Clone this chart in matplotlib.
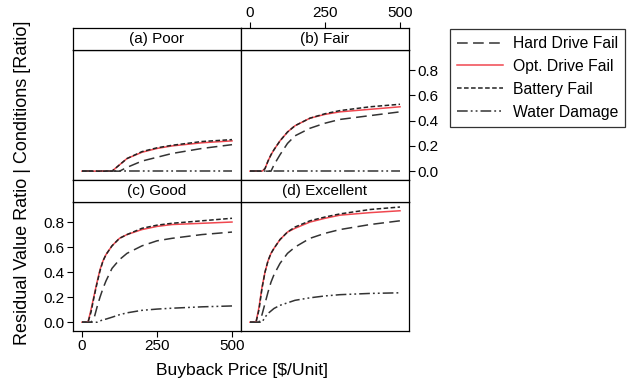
import matplotlib
matplotlib.use("Agg")
import matplotlib.pyplot as plt
from matplotlib.lines import Line2D

plt.rcParams['font.family'] = ['Liberation Sans', 'DejaVu Sans']

# buyback price grid, $/unit
price = [0, 20, 30, 40, 50, 60, 70, 80, 100, 125, 150, 200, 250, 300, 400, 500]

# (a) Poor
poor_hd = [0, 0, 0, 0, 0, 0, 0, 0, 0, 0, 0.03, 0.08, 0.11, 0.14, 0.18, 0.21]
poor_opt = [0, 0, 0, 0, 0, 0, 0, 0, 0, 0.05, 0.10, 0.15, 0.18, 0.20, 0.225, 0.24]
poor_bat = [0, 0, 0, 0, 0, 0, 0, 0, 0, 0.05, 0.10, 0.155, 0.185, 0.205, 0.235, 0.25]
poor_wat = [0] * 16

# (b) Fair
fair_hd = [0, 0, 0, 0, 0, 0, 0, 0.05, 0.13, 0.22, 0.28, 0.34, 0.38, 0.41, 0.44, 0.47]
fair_opt = [0, 0, 0, 0, 0.02, 0.08, 0.13, 0.17, 0.24, 0.31, 0.36, 0.42, 0.45, 0.47, 0.49, 0.51]
fair_bat = [0, 0, 0, 0, 0.02, 0.08, 0.13, 0.17, 0.24, 0.31, 0.36, 0.42, 0.455, 0.48, 0.51, 0.53]
fair_wat = [0] * 16

# (c) Good
good_hd = [0, 0, 0, 0.03, 0.12, 0.20, 0.27, 0.33, 0.43, 0.50, 0.55, 0.61, 0.65, 0.67, 0.70, 0.72]
good_opt = [0, 0, 0.10, 0.21, 0.32, 0.42, 0.49, 0.54, 0.61, 0.67, 0.70, 0.74, 0.765, 0.78, 0.79, 0.80]
good_bat = [0, 0, 0.08, 0.20, 0.31, 0.41, 0.49, 0.54, 0.61, 0.67, 0.70, 0.75, 0.775, 0.79, 0.81, 0.83]
good_wat = [0, 0, 0, 0, 0, 0.01, 0.02, 0.025, 0.04, 0.06, 0.075, 0.095, 0.105, 0.112, 0.123, 0.13]

# (d) Excellent
exc_hd = [0, 0, 0, 0.06, 0.15, 0.24, 0.32, 0.38, 0.47, 0.55, 0.60, 0.67, 0.71, 0.74, 0.78, 0.81]
exc_opt = [0, 0, 0.12, 0.28, 0.40, 0.49, 0.55, 0.59, 0.66, 0.72, 0.75, 0.80, 0.83, 0.855, 0.875, 0.89]
exc_bat = [0, 0, 0.10, 0.27, 0.40, 0.49, 0.55, 0.59, 0.66, 0.72, 0.76, 0.81, 0.84, 0.865, 0.90, 0.92]
exc_wat = [0, 0, 0, 0, 0.04, 0.07, 0.09, 0.11, 0.135, 0.155, 0.175, 0.195, 0.21, 0.22, 0.23, 0.235]

titles = ["(a) Poor", "(b) Fair", "(c) Good", "(d) Excellent"]
panels = [
    (poor_hd, poor_opt, poor_bat, poor_wat),
    (fair_hd, fair_opt, fair_bat, fair_wat),
    (good_hd, good_opt, good_bat, good_wat),
    (exc_hd, exc_opt, exc_bat, exc_wat),
]
labels = ["Hard Drive Fail", "Opt. Drive Fail", "Battery Fail", "Water Damage"]
xticks = [0, 250, 500]
yticks = [0.0, 0.2, 0.4, 0.6, 0.8]
ytick_labels = ["0.0", "0.2", "0.4", "0.6", "0.8"]

dark = "#333333"
red = "#f0474f"
styles = [
    dict(color=dark, lw=1.1, dashes=(7, 3.5)),
    dict(color=red, lw=1.1, linestyle="-"),
    dict(color="#222222", lw=1.1, dashes=(3, 1.6)),
    dict(color=dark, lw=1.1, dashes=(7, 2, 1.2, 2, 1.2, 2)),
]

W, H = 631, 384
fig = plt.figure(figsize=(W / 100, H / 100), dpi=100)

def fbox(x0, y0, x1, y1):
    return [x0 / W, 1 - y1 / H, (x1 - x0) / W, (y1 - y0) / H]

cols = [(73, 241), (241, 409)]
rows = [((28, 50), (50, 180)), ((180, 202), (202, 331))]
XLIM = (-30, 530)

for i in range(4):
    r, c = divmod(i, 2)
    (sy0, sy1), (py0, py1) = rows[r]
    cx0, cx1 = cols[c]
    ax = fig.add_axes(fbox(cx0, py0, cx1, py1))
    for y, st in zip(panels[i], styles):
        ax.plot(price, y, **st)
    ax.set_xlim(*XLIM)
    ax.set_ylim(-0.07, 0.96)
    for sp in ax.spines.values():
        sp.set_linewidth(0.9)
    ax.set_xticks(xticks)
    ax.set_yticks(yticks)
    ax.set_yticklabels(ytick_labels)
    ax.tick_params(direction="out", length=4, width=0.8, labelsize=11, pad=2,
                   bottom=False, top=False, left=False, right=False,
                   labelbottom=False, labeltop=False, labelleft=False, labelright=False)
    if i == 1:
        ax.tick_params(right=True, labelright=True)
    if i == 2:
        ax.tick_params(bottom=True, labelbottom=True, left=True, labelleft=True)

    sax = fig.add_axes(fbox(cx0, sy0, cx1, sy1))
    sax.set_xlim(*XLIM)
    sax.set_yticks([])
    sax.set_xticks(xticks if i == 1 else [])
    sax.tick_params(direction="out", length=4, width=0.8, labelsize=11, pad=2,
                    bottom=False, labelbottom=False, top=(i == 1), labeltop=(i == 1))
    for sp in sax.spines.values():
        sp.set_linewidth(0.9)
    sax.text(0.5, 0.5, titles[i], ha="center", va="center", fontsize=11,
             transform=sax.transAxes)

fig.text(23 / W, 1 - 183 / H, "Residual Value Ratio | Conditions [Ratio]",
         rotation=90, ha="center", va="center", fontsize=13)
fig.text(242 / W, 1 - 370 / H, "Buyback Price [$/Unit]",
         ha="center", va="center", fontsize=12.6)

handles = [Line2D([], [], **st) for st in styles]
leg = fig.legend(handles, labels, loc="upper left",
                 bbox_to_anchor=(450 / W, 1 - 29 / H), fontsize=11.3,
                 frameon=True, fancybox=False, edgecolor="black",
                 handlelength=2.9, handletextpad=0.65, borderpad=0.45,
                 labelspacing=0.5, borderaxespad=0)
leg.get_frame().set_linewidth(0.9)

fig.savefig("out.png", dpi=100)
